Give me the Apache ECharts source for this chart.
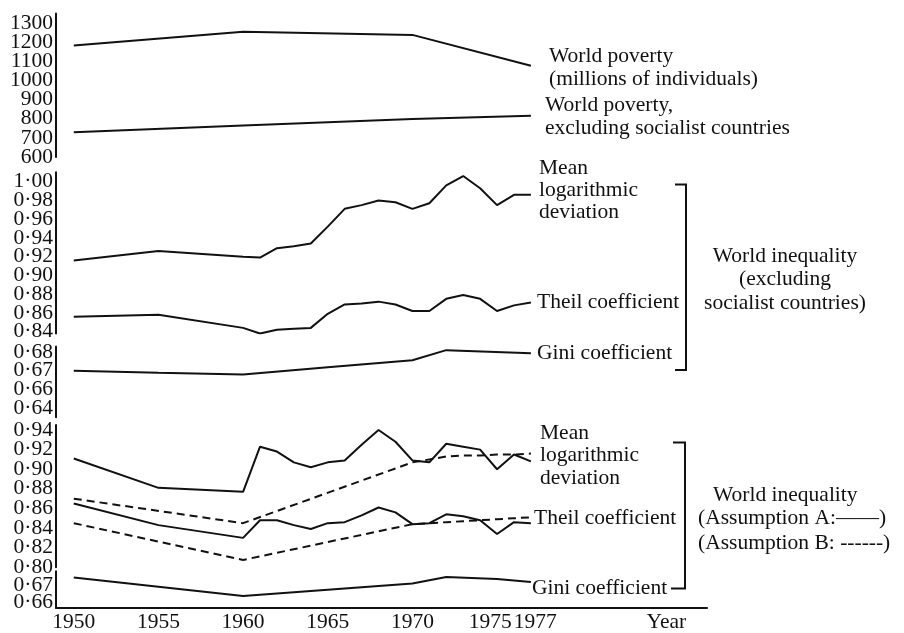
<!DOCTYPE html>
<html>
<head>
<meta charset="utf-8">
<title>World poverty and inequality, 1950–1977</title>
<script src="https://cdn.jsdelivr.net/npm/echarts@6/dist/echarts.min.js"></script>
<style>
  html, body { margin: 0; padding: 0; background: #fff; }
  #chart { width: 904px; height: 633px; }
</style>
</head>
<body>
<div id="chart"></div>
<script>
// Annual observations (1950 and 1955, then every year from 1960)
const years = [1950, 1955, 1960, 1961, 1962, 1963, 1964, 1965, 1966, 1967,
               1968, 1969, 1970, 1971, 1972, 1973, 1974, 1975, 1976, 1977];

// World poverty, millions of individuals
const povertyYears = [1950, 1960, 1970, 1977];
const povertyWorld = [1182, 1255, 1238, 1077];
const povertyNonSocialist = [729, 764, 798, 815];

// World inequality excluding socialist countries
const mldExcl = [0.916, 0.926, 0.920, 0.919, 0.929, 0.931, 0.934, 0.952, 0.971, 0.975,
                 0.980, 0.978, 0.971, 0.977, 0.996, 1.006, 0.993, 0.975, 0.986, 0.986];
const theilExcl = [0.856, 0.858, 0.844, 0.838, 0.842, 0.843, 0.844, 0.859, 0.869, 0.870,
                   0.872, 0.869, 0.862, 0.862, 0.875, 0.879, 0.875, 0.862, 0.868, 0.871];
const giniExcl = [0.6700, 0.6689, 0.6680, null, null, null, null, 0.6718, null, null,
                  null, null, 0.6756, null, 0.6810, null, null, null, null, 0.6793];

// World inequality, assumption A (solid) and assumption B (dashed)
const mldA = [0.911, 0.881, 0.877, 0.923, 0.918, 0.907, 0.902, 0.907, 0.909, 0.925,
              0.940, 0.928, 0.909, 0.907, 0.926, 0.923, 0.920, 0.900, 0.915, 0.908];
const mldB = [0.870, null, 0.845, null, null, null, null, null, null, null,
              null, null, 0.907, 0.910, 0.913, 0.914, 0.914, 0.915, 0.915, 0.916];
const theilA = [0.865, 0.843, 0.830, 0.848, 0.848, 0.843, 0.839, 0.845, 0.846, 0.853,
                0.861, 0.856, 0.844, 0.845, 0.854, 0.852, 0.848, 0.834, 0.846, 0.845];
const theilB = [0.845, null, 0.8075, null, null, null, null, null, null, null,
                null, null, 0.844, 0.845, 0.846, 0.847, 0.848, 0.849, 0.850, 0.851];
const giniA = [0.6744, 0.6690, 0.6635, null, null, null, null, 0.6672, null, null,
               null, null, 0.6709, null, 0.6747, null, null, 0.6735, null, 0.6718];

// Tick labels of the broken vertical scale, top to bottom
const povertyTicks = [1300, 1200, 1100, 1000, 900, 800, 700, 600];
const povertyTickLabels = ['1300', '1200', '1100', '1000', '900', '800', '700', '600'];
const upperTicks = [1.00, 0.98, 0.96, 0.94, 0.92, 0.90, 0.88, 0.86, 0.84];
const upperTickLabels = ['1·00', '0·98', '0·96', '0·94', '0·92', '0·90', '0·88', '0·86', '0·84'];
const giniUpperTicks = [0.68, 0.67, 0.66, 0.65];
const giniUpperTickLabels = ['0·68', '0·67', '0·66', '0·64'];
const lowerTicks = [0.94, 0.92, 0.90, 0.88, 0.86, 0.84, 0.82, 0.80];
const lowerTickLabels = ['0·94', '0·92', '0·90', '0·88', '0·86', '0·84', '0·82', '0·80'];
const giniLowerTicks = [0.67, 0.66];
const giniLowerTickLabels = ['0·67', '0·66'];

// Year axis labels (1975 and 1977 are nudged apart so they do not collide)
const yearTicks = [1950, 1955, 1960, 1965, 1970, 1974.6, 1977.25, 1985];
const yearTickLabels = ['1950', '1955', '1960', '1965', '1970', '1975', '1977', 'Year'];

const FONT = '"Liberation Serif", "Times New Roman", serif';
const FONT_SIZE = 21.5;
const INK = '#111';

function pickLabel(ticks, labels) {
  return function (v) {
    const i = ticks.findIndex(t => Math.abs(t - v) < 1e-6);
    return i >= 0 ? labels[i] : '';
  };
}

function pairs(xs, ys) {
  const out = [];
  xs.forEach((x, i) => { if (ys[i] != null) out.push([x, ys[i]]); });
  return out;
}

// Panels stacked on one broken vertical axis
const panels = [
  { top: 13.45, height: 143.55, min: 600,    max: 1350,  interval: 50,     ticks: povertyTicks,   labels: povertyTickLabels },
  { top: 172.3, height: 161.2,  min: 0.838,  max: 1.010, interval: 0.002,  ticks: upperTicks,     labels: upperTickLabels },
  { top: 346.4, height: 70.9,   min: 0.645,  max: 0.683, interval: 0.001,  ticks: giniUpperTicks, labels: giniUpperTickLabels },
  { top: 425.1, height: 142.2,  min: 0.800,  max: 0.945, interval: 0.005,  ticks: lowerTicks,     labels: lowerTickLabels },
  { top: 571.3, height: 41.5,   min: 0.6565, max: 0.678, interval: 0.0005, ticks: giniLowerTicks, labels: giniLowerTickLabels }
];

const grids = panels.map(p => ({ left: 56, width: 651, top: p.top, height: p.height }));

const yAxes = panels.map((p, i) => ({
  type: 'value', gridIndex: i, min: p.min, max: p.max, interval: p.interval,
  axisLine: { show: true, lineStyle: { color: INK, width: 2 } },
  axisTick: { show: false },
  splitLine: { show: false },
  axisLabel: {
    formatter: pickLabel(p.ticks, p.labels),
    fontFamily: FONT, fontSize: FONT_SIZE, color: INK, margin: 3
  }
}));

const xAxes = panels.map((p, i) => ({
  type: 'value', gridIndex: i, min: 1948.95, max: 1987.4, interval: 0.05,
  show: i === panels.length - 1,
  axisLine: { show: true, onZero: false, lineStyle: { color: INK, width: 2 } },
  axisTick: { show: false },
  splitLine: { show: false },
  axisLabel: {
    formatter: pickLabel(yearTicks, yearTickLabels),
    fontFamily: FONT, fontSize: FONT_SIZE, color: INK, margin: 3
  }
}));

function line(name, idx, xs, ys, dashed) {
  return {
    name, type: 'line', xAxisIndex: idx, yAxisIndex: idx,
    data: pairs(xs, ys), symbol: 'none', silent: true,
    lineStyle: { color: INK, width: 2, type: dashed ? [8, 5] : 'solid' }
  };
}

const series = [
  line('World poverty', 0, povertyYears, povertyWorld),
  line('World poverty, excluding socialist countries', 0, povertyYears, povertyNonSocialist),
  line('Mean logarithmic deviation (excl.)', 1, years, mldExcl),
  line('Theil coefficient (excl.)', 1, years, theilExcl),
  line('Gini coefficient (excl.)', 2, years, giniExcl),
  line('Mean logarithmic deviation A', 3, years, mldA),
  line('Mean logarithmic deviation B', 3, years, mldB, true),
  line('Theil coefficient A', 3, years, theilA),
  line('Theil coefficient B', 3, years, theilB, true),
  line('Gini coefficient A', 4, years, giniA)
];

function txt(text, x, y, lh, align) {
  return {
    type: 'text', silent: true,
    style: {
      text, x, y, font: FONT_SIZE + 'px ' + FONT, fill: INK,
      lineHeight: lh || 23, align: align || 'left', verticalAlign: 'top'
    }
  };
}

function bracket(points) {
  return {
    type: 'polyline', silent: true,
    shape: { points },
    style: { stroke: INK, lineWidth: 2, fill: null }
  };
}

const graphics = [
  txt('World poverty\n(millions of individuals)', 549, 45, 23),
  txt('World poverty,\nexcluding socialist countries', 545, 93.5, 23),
  txt('Mean\nlogarithmic\ndeviation', 539, 157, 22),
  txt('Theil coefficient', 537, 290.5),
  txt('Gini coefficient', 537, 341.5),
  bracket([[675, 184.5], [686, 184.5], [686, 370], [675, 370]]),
  txt('World inequality\n(excluding\nsocialist countries)', 785, 244.5, 23.5, 'center'),
  txt('Mean\nlogarithmic\ndeviation', 540, 422, 22.5),
  txt('Theil coefficient', 534, 507),
  txt('Gini coefficient', 532, 577),
  bracket([[673, 442.5], [685, 442.5], [685, 588.5], [671, 588.5]]),
  txt('World inequality', 713, 483.5),
  txt('(Assumption A:——)', 698, 507),
  txt('(Assumption B: ------)', 698, 532)
];

const chart = echarts.init(document.getElementById('chart'), null, { renderer: 'canvas' });
chart.setOption({
  animation: false,
  backgroundColor: '#fff',
  grid: grids,
  xAxis: xAxes,
  yAxis: yAxes,
  series,
  graphic: graphics
});
</script>
</body>
</html>
